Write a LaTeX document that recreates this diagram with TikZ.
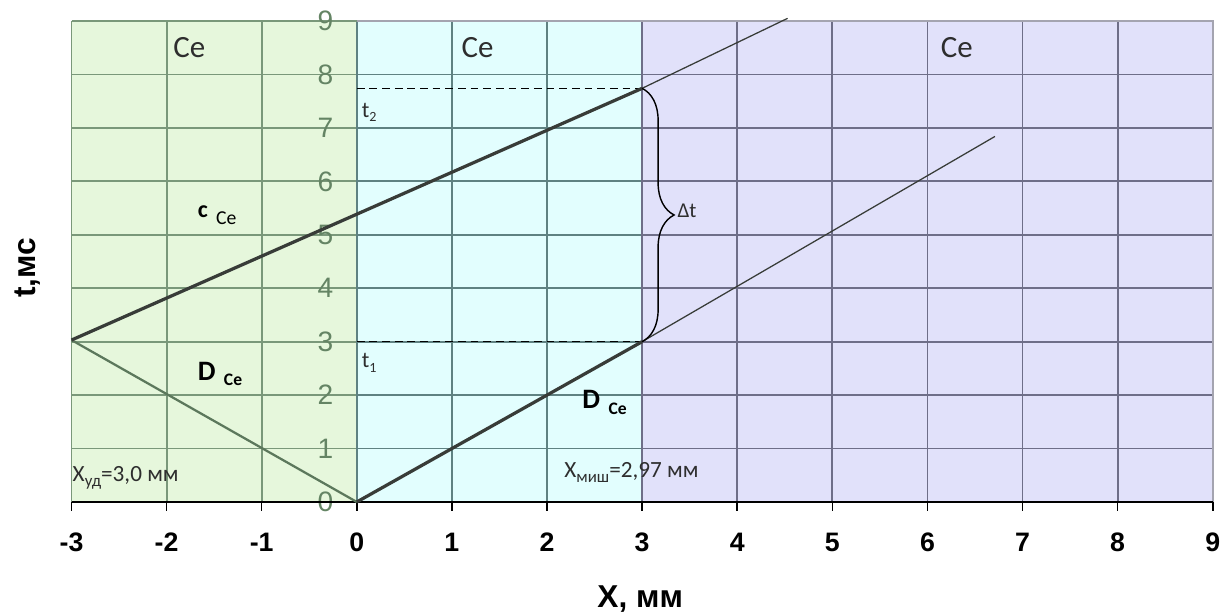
\documentclass[tikz,border=0pt]{standalone}
\usepackage{fontspec}
\setmainfont{Carlito}
\newfontfamily\arial{Liberation Sans}
\usetikzlibrary{decorations.pathreplacing}
\definecolor{bggreen}{HTML}{E6F7DC}
\definecolor{bgcyan}{HTML}{E2FEFE}
\definecolor{bglav}{HTML}{E1E1FA}
\definecolor{grgreen}{HTML}{7A987A}
\definecolor{grcyan}{HTML}{5F8282}
\definecolor{grlav}{HTML}{6E6E88}
\definecolor{framegrey}{HTML}{A4A4B0}
\definecolor{ylabcol}{HTML}{648464}
\definecolor{linecol}{HTML}{383C38}
\definecolor{dlinecol}{HTML}{5C785C}
\definecolor{txtcol}{HTML}{2E2E2E}
\tikzset{
  gridline/.style={line width=1.3pt},
  thickline/.style={linecol, line width=2.3pt},
  thinline/.style={linecol, line width=0.9pt},
  dline/.style={dlinecol, line width=1.6pt},
  dashline/.style={black, line width=1.1pt, dash pattern=on 5.5pt off 3.5pt},
  ytick/.style={text=ylabcol, font=\arial\fontsize{20}{22}\selectfont, inner sep=0pt},
  xtick/.style={text=black, font=\arial\bfseries\fontsize{19}{22}\selectfont, inner sep=0pt},
  regionlabel/.style={text=txtcol, font=\fontsize{22}{24}\selectfont, inner sep=0pt},
  smalllabel/.style={text=txtcol, font=\fontsize{16.5}{18}\selectfont, inner sep=0pt, anchor=base west},
  axistitle/.style={text=black, font=\arial\bfseries\fontsize{22.5}{24}\selectfont, inner sep=0pt}
}
\begin{document}
\begin{tikzpicture}[x=2.3775cm, y=1.336cm]
\useasboundingbox (-3.752,-2.096) rectangle (9.087,9.393);
% backgrounds
\fill[bggreen] (-3,0) rectangle (0,9);
\fill[bgcyan] (0,0) rectangle (3,9);
\fill[bglav] (3,0) rectangle (9,9);
% grids
\foreach \y in {1,...,9} {
  \draw[gridline, grgreen] (-3,\y) -- (0,\y);
  \draw[gridline, grcyan] (0,\y) -- (3,\y);
  \draw[gridline, grlav] (3,\y) -- (9,\y);
}
\foreach \x in {-3,-2,-1} \draw[gridline, grgreen] (\x,0) -- (\x,9);
\foreach \x in {0,1,2} \draw[gridline, grcyan] (\x,0) -- (\x,9);
\foreach \x in {3,...,8} \draw[gridline, grlav] (\x,0) -- (\x,9);
\draw[gridline, framegrey] (0,9) -- (9,9) -- (9,0);
\draw[gridline, grgreen] (-0.1,9) -- (0,9);
% y tick labels
\foreach \y in {0,...,9} \node[ytick] (yl\y) at (-0.33,\y) {\y};
% x axis
\draw[black, line width=1.3pt] (-3,0) -- (9,0);
\foreach \x in {-3,...,9} {
  \draw[black, line width=1.1pt] (\x,0) -- (\x,-0.16);
  \node[xtick] (xl\x) at (\x,-0.75) {\x};
}
% key points
\coordinate (A) at (-3,3.03);
\coordinate (O) at (0,0);
\coordinate (P2) at (3,7.74);
\coordinate (P1) at (3,3);
\coordinate (E2) at (4.53,9.05);
\coordinate (E1) at (6.71,6.84);
\coordinate (T2) at (0,7.74);
\coordinate (T1) at (0,3);
% dashed levels
\draw[dashline] (T2) -- (P2);
\draw[dashline] (T1) -- (P1);
% curves
\draw[dline] (A) -- (O);
\draw[thickline] (A) -- (P2);
\draw[thinline] (P2) -- (E2);
\draw[thickline] (O) -- (P1);
\draw[thinline] (P1) -- (E1);
% brace
\draw[black, line width=1pt, decorate, decoration={brace, amplitude=0.8cm}] (P2) -- (P1);
\node[text=txtcol, font=\fontsize{15}{16}\selectfont, inner sep=0pt, anchor=west] (dt) at (3.37,5.44) {Δt};
% region labels
\node[regionlabel] (ce1) at (-1.76,8.5) {Ce};
\node[regionlabel] (ce2) at (1.27,8.5) {Ce};
\node[regionlabel] (ce3) at (6.31,8.5) {Ce};
% curve labels
\node[text=black, inner sep=0pt, anchor=base west] (cce) at (-1.675,5.33)
  {\bfseries\fontsize{17}{18}\selectfont c\hspace{0.35em}\raisebox{-5.5pt}{\mdseries\fontsize{14}{15}\selectfont Ce}};
\node[text=black, inner sep=0pt, anchor=base west] (dce1) at (-1.675,2.28)
  {\bfseries\fontsize{20}{22}\selectfont D\hspace{0.3em}\raisebox{-4pt}{\fontsize{12.5}{14}\selectfont Ce}};
\node[text=black, inner sep=0pt, anchor=base west] (dce2) at (2.37,1.74)
  {\bfseries\fontsize{20}{22}\selectfont D\hspace{0.3em}\raisebox{-4pt}{\fontsize{12.5}{14}\selectfont Ce}};
% t labels
\node[text=txtcol, inner sep=0pt, anchor=base west] (t2) at (0.05,7.2)
  {\fontsize{16}{18}\selectfont t\raisebox{-3pt}{\fontsize{10}{11}\selectfont 2}};
\node[text=txtcol, inner sep=0pt, anchor=base west] (t1) at (0.05,2.51)
  {\fontsize{16}{18}\selectfont t\raisebox{-3pt}{\fontsize{10}{11}\selectfont 1}};
% X labels
\node[smalllabel] (xud) at (-2.99,0.38)
  {X\raisebox{-3.5pt}{\fontsize{12}{13}\selectfont уд}=3,0 мм};
\node[smalllabel] (xmish) at (2.18,0.45)
  {X\raisebox{-3.5pt}{\fontsize{12}{13}\selectfont миш}=2,97 мм};
% axis titles
\node[axistitle] (xtitle) at (2.98,-1.82) {X, мм};
\node[axistitle, rotate=90] (ttitle) at (-3.46,4.38) {t,мс};
\end{tikzpicture}
\end{document}
